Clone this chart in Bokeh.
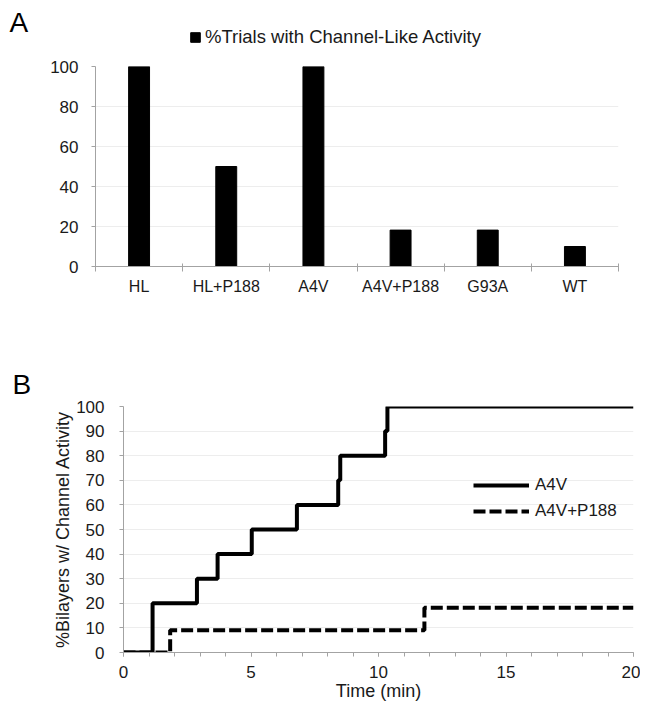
from bokeh.plotting import figure
from bokeh.models import (ColumnDataSource, FixedTicker, Legend, LegendItem, Label,
                          Range1d, SingleIntervalTicker)
from bokeh.embed import file_html
from bokeh.resources import INLINE

# ---- data ----
categories = ["HL", "HL+P188", "A4V", "A4V+P188", "G93A", "WT"]
pct_trials = [100, 50, 100, 18.2, 18.2, 10]

time_a4v = [0, 1.14, 2.88, 3.69, 5.03, 6.80, 8.42, 8.50, 10.26, 10.35, 20]
pct_a4v = [0, 20, 30, 40, 50, 60, 70, 80, 90, 100, 100]
time_p188 = [0, 1.83, 11.80, 20]
pct_p188 = [0, 9.09, 18.18, 18.18]

FONT = "Liberation Sans"
AXIS_COLOR = "#a3a3a3"
GRID_COLOR = "#ededed"
TEXT_COLOR = "#1a1a1a"


def style_axis(ax, size):
    ax.axis_line_color = AXIS_COLOR
    ax.major_tick_line_color = AXIS_COLOR
    ax.minor_tick_line_color = AXIS_COLOR
    ax.major_label_text_font = FONT
    ax.major_label_text_font_size = size
    ax.major_label_text_color = TEXT_COLOR
    ax.axis_label_text_font = FONT
    ax.axis_label_text_font_style = "normal"
    ax.axis_label_text_color = TEXT_COLOR
    ax.major_tick_in = 0
    ax.minor_tick_in = 0


xa = [i + 0.5 for i in range(len(categories))]
srcA = ColumnDataSource(dict(x=xa, top=pct_trials))

# ---- Header of panel A (panel letter + legend) ----
# the header carries the legend key of the same bar series; its y range lies
# above all bar values, so the bars themselves stay out of view
head = figure(width=640, height=56, x_range=Range1d(0, len(categories)),
              y_range=Range1d(150, 151), x_axis_type=None, y_axis_type=None,
              output_backend="svg", toolbar_location=None, min_border=0)
head.outline_line_color = None
legend_key = head.vbar(x="x", top="top", width=0.24, source=srcA,
                       fill_color="black", line_color="black")
legA = Legend(items=[LegendItem(label="%Trials with Channel-Like Activity",
                                renderers=[legend_key])],
              location=(189, 8), glyph_width=12, glyph_height=12,
              label_standoff=4, padding=0, margin=0, border_line_color=None,
              background_fill_alpha=0, label_text_font=FONT,
              label_text_font_size="18.5px", label_text_color=TEXT_COLOR)
head.add_layout(legA)
head.add_layout(Label(x=9, y=34, x_units="screen", y_units="screen", text="A",
                      text_font=FONT, text_font_size="28px",
                      text_baseline="alphabetic", text_color="black"))

# ---- Panel A ----
pA = figure(width=640, height=272, x_range=Range1d(0, len(categories)),
            y_range=Range1d(0, 100), output_backend="svg", toolbar_location=None,
            min_border_left=95, min_border_right=22, min_border_top=10,
            min_border_bottom=62)
pA.outline_line_color = None
pA.vbar(x="x", top="top", width=0.24, source=srcA, fill_color="black",
        line_color="black")

pA.xaxis.ticker = FixedTicker(ticks=xa, minor_ticks=list(range(len(categories) + 1)))
pA.xaxis.major_label_overrides = {x: c for x, c in zip(xa, categories)}
style_axis(pA.xaxis[0], "16px")
pA.xaxis.major_tick_out = 0
pA.xaxis.minor_tick_out = 5
pA.xaxis.minor_tick_in = 3
pA.xaxis.major_label_standoff = 6

pA.yaxis.ticker = SingleIntervalTicker(interval=20, num_minor_ticks=0)
style_axis(pA.yaxis[0], "17px")
pA.yaxis.major_tick_out = 4
pA.yaxis.major_label_standoff = 13

pA.xgrid.visible = False
pA.ygrid.grid_line_color = GRID_COLOR

# ---- Panel B ----
pB = figure(width=640, height=375, x_range=Range1d(0, 20), y_range=Range1d(0, 100),
            output_backend="svg", toolbar_location=None, title="B",
            min_border_left=123, min_border_right=7, min_border_top=78,
            min_border_bottom=51)
pB.title.text_font = FONT
pB.title.text_font_size = "28px"
pB.title.text_font_style = "normal"
pB.title.text_color = "black"
pB.title.align = "left"
pB.title.offset = -111
pB.title.standoff = 13
pB.outline_line_color = None
r1 = pB.step(time_a4v, pct_a4v, mode="after", line_width=4, line_color="black")
r2 = pB.step(time_p188, pct_p188, mode="after", line_width=4, line_color="black",
             line_dash="12 4")

pB.xaxis.ticker = SingleIntervalTicker(interval=5, num_minor_ticks=5)
style_axis(pB.xaxis[0], "17px")
pB.xaxis.major_tick_out = 4
pB.xaxis.minor_tick_out = 4
pB.xaxis.major_label_standoff = 9
pB.xaxis.axis_label = "Time (min)"
pB.xaxis.axis_label_text_font_size = "18px"
pB.xaxis.axis_label_standoff = 0

pB.yaxis.ticker = SingleIntervalTicker(interval=10, num_minor_ticks=0)
style_axis(pB.yaxis[0], "17px")
pB.yaxis.major_tick_out = 4
pB.yaxis.major_label_standoff = 15
pB.yaxis.axis_label = "%Bilayers w/ Channel Activity"
pB.yaxis.axis_label_text_font_size = "18px"
pB.yaxis.axis_label_standoff = 0

pB.xgrid.visible = False
pB.ygrid.grid_line_color = GRID_COLOR

legB = Legend(items=[LegendItem(label="A4V", renderers=[r1]),
                     LegendItem(label="A4V+P188", renderers=[r2])],
              location=(350, 131), glyph_width=56, glyph_height=20, spacing=6,
              label_standoff=6, padding=0, margin=0, border_line_color=None,
              background_fill_alpha=0, label_text_font=FONT,
              label_text_font_size="17px", label_text_color=TEXT_COLOR)
pB.add_layout(legB)

open("out.html", "w").write(file_html([head, pA, pB], INLINE))
